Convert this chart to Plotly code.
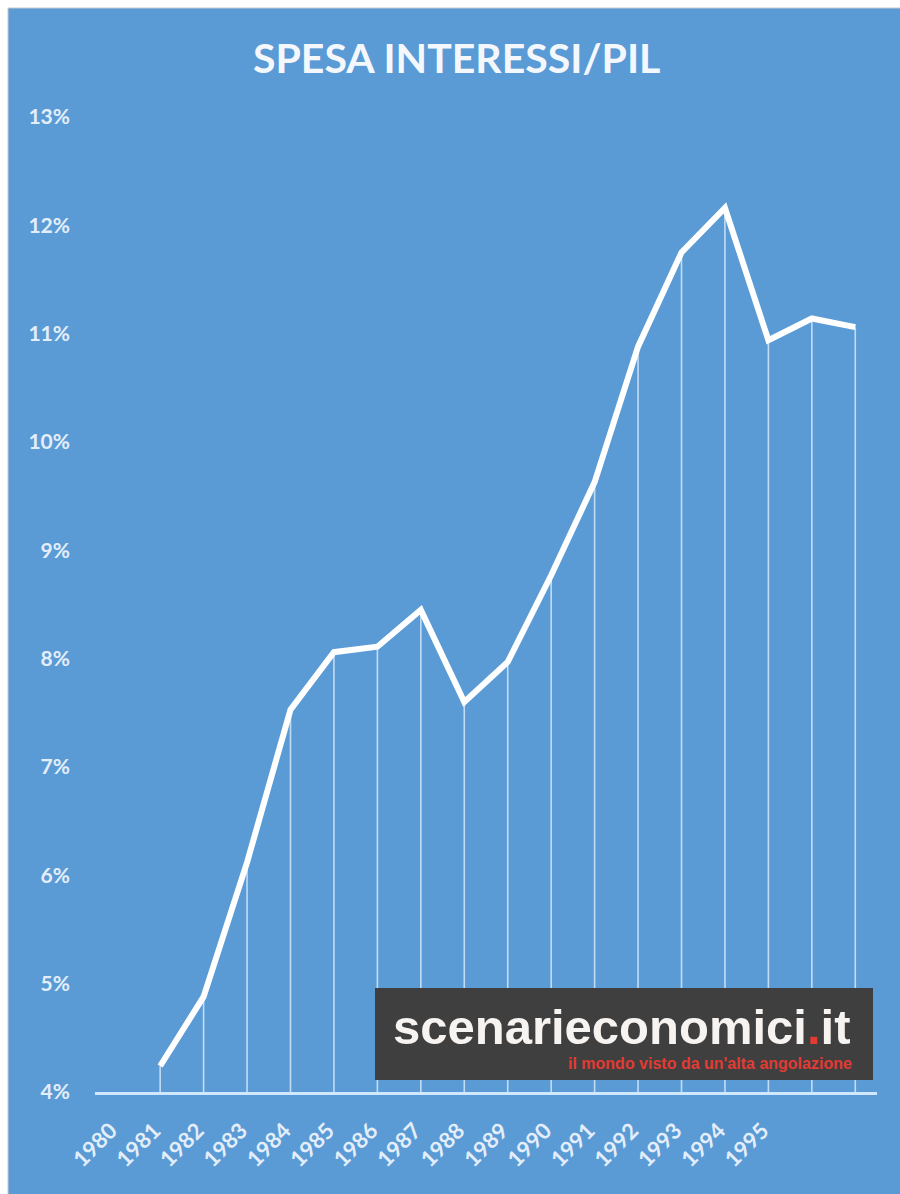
import plotly.graph_objects as go

# ---- data ----
years = [1980, 1981, 1982, 1983, 1984, 1985, 1986, 1987, 1988, 1989,
         1990, 1991, 1992, 1993, 1994, 1995, 1996, 1997]
values = [None, 4.24, 4.88, 6.12, 7.53, 8.06, 8.11, 8.45, 7.60, 7.97,
          8.77, 9.63, 10.88, 11.75, 12.16, 10.94, 11.14, 11.06]
x_tick_years = [1980, 1981, 1982, 1983, 1984, 1985, 1986, 1987,
                1988, 1989, 1990, 1991, 1992, 1993, 1994, 1995]
x_tick_labels = [str(y) for y in x_tick_years]
y_tick_vals = [4, 5, 6, 7, 8, 9, 10, 11, 12, 13]
y_tick_labels = ["4%", "5%", "6%", "7%", "8%", "9%", "10%", "11%", "12%", "13%"]

title_text = "SPESA INTERESSI/PIL"
BLUE = "#5b9bd5"
LABEL = "#e3eefa"

xs = [x for x, v in zip(years, values) if v is not None]
vs = [v for v in values if v is not None]
drops = [v - 4 for v in vs]

fig = go.Figure()
# drop lines
fig.add_trace(go.Scatter(
    x=xs, y=vs, mode="markers",
    marker=dict(size=0.1, color="rgba(0,0,0,0)"),
    error_y=dict(type="data", symmetric=False, array=[0] * len(vs),
                 arrayminus=drops, width=0, thickness=1.6,
                 color="rgba(230,242,255,0.75)"),
    hoverinfo="skip", showlegend=False,
))
# main line
fig.add_trace(go.Scatter(
    x=xs, y=vs, mode="lines",
    line=dict(color="white", width=6),
    showlegend=False,
))

W, H = 900, 1194
L, R, T, B = 95, 23, 117, 102
pw = W - L - R
ph = H - T - B


def px_x(p):  # page pixel -> paper
    return (p - L) / pw


def px_y(p):
    return (H - B - p) / ph


shapes = [
    # white frame strips (left and top) with thin grey edge
    dict(type="rect", xref="paper", yref="paper", x0=px_x(-5), x1=px_x(8),
         y0=px_y(H + 5), y1=px_y(-5), fillcolor="white", line=dict(width=0)),
    dict(type="rect", xref="paper", yref="paper", x0=px_x(-5), x1=px_x(W + 5),
         y0=px_y(8), y1=px_y(-5), fillcolor="white", line=dict(width=0)),
    dict(type="line", xref="paper", yref="paper", x0=px_x(8), x1=px_x(8),
         y0=px_y(H + 5), y1=px_y(8), line=dict(color="#c8c8c8", width=1)),
    dict(type="line", xref="paper", yref="paper", x0=px_x(8), x1=px_x(W + 5),
         y0=px_y(8), y1=px_y(8), line=dict(color="#c8c8c8", width=1)),
    # logo box
    dict(type="rect", xref="paper", yref="paper", x0=px_x(375), x1=px_x(873),
         y0=px_y(1080), y1=px_y(988), fillcolor="#403f3f", line=dict(width=0)),
]

annotations = [
    dict(text="<b>" + title_text + "</b>", xref="paper", yref="paper",
         x=px_x(456), y=px_y(57), xanchor="center", yanchor="middle",
         showarrow=False, font=dict(family="Lato", size=41, color="#f4f8fd")),
    dict(text="<b>scenarieconomici<span style='color:#e23b34'>.</span>it</b>",
         xref="paper", yref="paper", x=px_x(622), y=px_y(1027),
         xanchor="center", yanchor="middle", showarrow=False,
         font=dict(family="Liberation Sans", size=49, color="#f7f3f0")),
    dict(text="<b>il mondo visto da un'alta angolazione</b>",
         xref="paper", yref="paper", x=px_x(854), y=px_y(1063),
         xanchor="right", yanchor="middle", showarrow=False,
         font=dict(family="Liberation Sans", size=16, color="#e23b34")),
]

fig.update_layout(
    width=W, height=H,
    margin=dict(l=L, r=R, t=T, b=B, pad=0),
    paper_bgcolor=BLUE, plot_bgcolor=BLUE,
    shapes=shapes, annotations=annotations,
    showlegend=False,
    xaxis=dict(range=[1979.5, 1997.5], tickvals=x_tick_years,
               ticktext=x_tick_labels, tickangle=-45, showgrid=False,
               zeroline=False, showline=True, linecolor="#cfe7ff",
               linewidth=3, ticks="", ticklabelstandoff=14,
               ticklabelshift=-6,
               tickfont=dict(family="Lato", size=22, color=LABEL, weight="bold")),
    yaxis=dict(range=[4, 13], tickvals=y_tick_vals, ticktext=y_tick_labels,
               showgrid=False, zeroline=False, showline=False, ticks="",
               ticklabelstandoff=24,
               tickfont=dict(family="Lato", size=21, color=LABEL, weight="bold")),
)

fig.write_html(
    "out.html",
    config={"displayModeBar": False},
    post_script="document.body.style.margin='0';document.documentElement.style.overflow='hidden';",
)
